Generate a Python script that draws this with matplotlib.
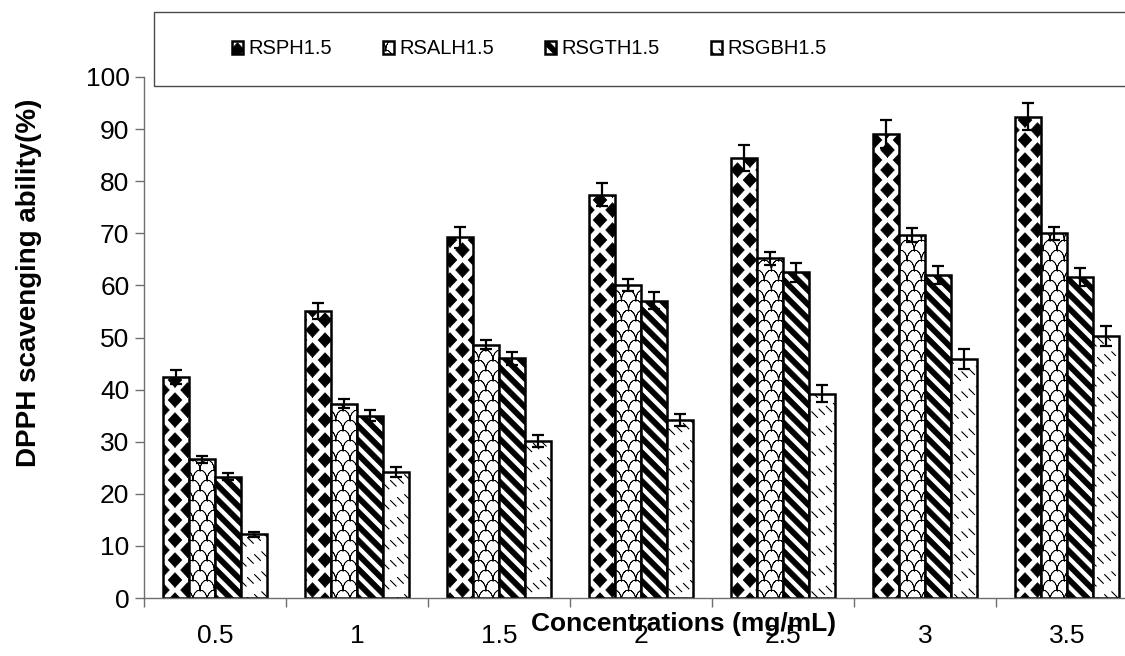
import numpy as np
import matplotlib
matplotlib.use("Agg")
import matplotlib.pyplot as plt  # noqa: E402
from matplotlib import hatch as mhatch  # noqa: E402
from matplotlib.path import Path  # noqa: E402
from matplotlib.patches import Rectangle  # noqa: E402

concentrations = ["0.5", "1", "1.5", "2", "2.5", "3", "3.5"]
series_names = ["RSPH1.5", "RSALH1.5", "RSGTH1.5", "RSGBH1.5"]

rsph = [42.4, 55.1, 69.2, 77.4, 84.5, 89.1, 92.4]
rsph_err = [1.3, 1.6, 2.0, 2.2, 2.5, 2.7, 2.6]
rsalh = [26.6, 37.3, 48.6, 60.1, 65.2, 69.7, 70.0]
rsalh_err = [0.6, 0.8, 0.9, 1.2, 1.3, 1.3, 1.3]
rsgth = [23.3, 35.0, 46.0, 57.1, 62.5, 62.0, 61.6]
rsgth_err = [0.7, 1.0, 1.2, 1.7, 1.8, 1.8, 1.8]
rsgbh = [12.2, 24.2, 30.1, 34.2, 39.2, 45.9, 50.3]
rsgbh_err = [0.4, 1.0, 1.1, 1.2, 1.6, 1.9, 2.0]

yticks = list(range(0, 101, 10))


# ---- fill patterns (tile = one hatch unit, y up) ----
class TiledHatch(mhatch.HatchPatternBase):
    key = ""

    def __init__(self, hatch, density):
        self.parts = self.make_parts() if self.key in hatch else []
        self.num_vertices = sum(len(p) for p in self.parts)

    def set_vertices_and_codes(self, vertices, codes):
        pos = 0
        for part in self.parts:
            n = len(part)
            vertices[pos:pos + n] = part
            codes[pos] = Path.MOVETO
            codes[pos + 1:pos + n] = Path.LINETO
            pos += n


class DiamondHatch(TiledHatch):
    # small solid diamonds in staggered rows
    key = "*"

    def make_parts(self):
        nx, ny = 4, 5
        hw, hh = 0.27 / nx, 0.36 / ny
        parts = []
        for j in range(-1, 2 * ny + 2):
            y = j * 0.5 / ny
            shift = 0.5 / nx if j % 2 else 0.0
            for i in range(-1, nx + 2):
                x = i / nx + shift
                parts.append(np.array([[x, y - hh], [x + hw, y], [x, y + hh],
                                       [x - hw, y], [x, y - hh]]))
        return parts


class ScaleHatch(TiledHatch):
    # thin fish-scale arcs
    key = "o"

    def make_parts(self):
        nx, ny = 7, 5
        r, h = 0.5 / nx, 0.5 / ny
        t = np.linspace(0, np.pi, 9)
        arc = np.column_stack([-r * np.cos(t), h * np.sin(t)])
        arc = np.vstack([arc, arc[::-1]])
        parts = []
        for j in range(-1, 2 * ny + 2):
            shift = r if j % 2 else 0.0
            for i in range(-1, nx + 2):
                parts.append(arc + [i / nx + shift, j * h])
        return parts


class StripeHatch(TiledHatch):
    # wide black diagonal bands
    key = "\\"

    def make_parts(self):
        n = 7
        t = 0.5 / n
        parts = []
        for k in range(-2, 2 * n + 3):
            c = k / n
            parts.append(np.array([[-0.2, c + 0.2], [1.2, c - 1.2],
                                   [1.2, c - 1.2 + t], [-0.2, c + 0.2 + t],
                                   [-0.2, c + 0.2]]))
        return parts


class DashHatch(TiledHatch):
    # short diagonal dashes
    key = "."

    def make_parts(self):
        n, m = 10, 7
        d = 0.024
        parts = []
        for k in range(-2, 2 * n + 3):
            c = k / n
            phase = 0.5 / m if k % 2 else 0.0
            for i in range(-1, m + 2):
                x = i / m + phase
                p0 = [x - d, c - x + d]
                p1 = [x + d, c - x - d]
                parts.append(np.array([p0, p1, p0]))
        return parts


mhatch._hatch_types = [DiamondHatch, ScaleHatch, StripeHatch, DashHatch]
hatches = ["*", "o", "\\", "."]

plt.rcParams["font.family"] = ["Liberation Sans", "DejaVu Sans"]
plt.rcParams["hatch.linewidth"] = 0.55
plt.rcParams["hatch.color"] = "black"

W, H = 1125, 656
fig = plt.figure(figsize=(W / 100, H / 100), dpi=100)
# plot area runs a little past the right edge of the canvas
ax = fig.add_axes([144 / W, 58 / H, 994 / W, 521 / H])

values = [rsph, rsalh, rsgth, rsgbh]
errors = [rsph_err, rsalh_err, rsgth_err, rsgbh_err]
centers = np.arange(len(concentrations)) + 0.5
width = 0.183

bars = []
for k, (vals, errs) in enumerate(zip(values, errors)):
    x = centers + (k - 1.5) * width
    b = ax.bar(x, vals, width, color="white", edgecolor="black",
               linewidth=1.8, hatch=hatches[k], label=series_names[k])
    bars.append(b)
    ax.errorbar(x, vals, yerr=errs, fmt="none", ecolor="black",
                elinewidth=1.6, capsize=4, capthick=1.6)

ax.set_xlim(0, len(concentrations))
ax.set_ylim(0, 100)

axis_gray = "#6e6e6e"
for side in ("top", "right"):
    ax.spines[side].set_visible(False)
for side in ("left", "bottom"):
    ax.spines[side].set_color(axis_gray)
    ax.spines[side].set_linewidth(1.0)

ax.set_yticks(yticks)
ax.tick_params(axis="y", direction="out", length=6.5, width=1.0,
               color=axis_gray, labelsize=19, pad=4)
ax.set_xticks(centers)
ax.set_xticklabels(concentrations)
ax.set_xticks(np.arange(len(concentrations) + 1), minor=True)
ax.tick_params(axis="x", which="major", length=0, labelsize=19, pad=19)
ax.tick_params(axis="x", which="minor", direction="out", length=6.5,
               width=1.0, color=axis_gray)

fig.text(684 / W, 1 - 624 / H, "Concentrations (mg/mL)", ha="center",
         va="center", fontsize=19, fontweight="bold")
fig.text(29 / W, 1 - 283 / H, "DPPH scavenging ability(%)", ha="center",
         va="center", rotation=90, fontsize=20, fontweight="bold")

# legend strip across the top
fig.add_artist(Rectangle((154 / W, 1 - 86 / H), 1.0, 74 / H,
                         transform=fig.transFigure, fill=False,
                         edgecolor="#4a4a4a", linewidth=1.0))
fig.legend(handles=bars, labels=series_names, ncol=4, frameon=False,
           loc="center left", bbox_to_anchor=(232 / W, 1 - 49 / H),
           fontsize=14.5, handlelength=0.55, handleheight=0.65,
           handletextpad=0.25, columnspacing=2.55, borderpad=0,
           borderaxespad=0)

fig.savefig("out.png", dpi=100)
